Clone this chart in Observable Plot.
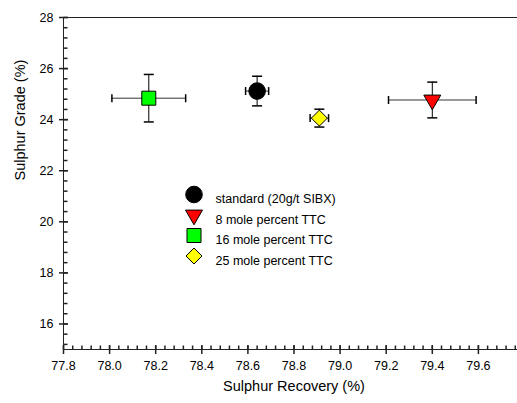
<!DOCTYPE html>
<html>
<head>
<meta charset="utf-8">
<script src="https://cdn.jsdelivr.net/npm/d3@7"></script>
<script src="https://cdn.jsdelivr.net/npm/@observablehq/plot@0.6"></script>
<style>
  html, body { margin: 0; padding: 0; background: #fff; }
  svg { font-family: "Liberation Sans", Arial, sans-serif; }
</style>
</head>
<body>
<div id="chart"></div>
<script>
// Flotation results: sulphur recovery vs grade, mean ± error for each collector
const series = ["standard (20g/t SIBX)", "8 mole percent TTC", "16 mole percent TTC", "25 mole percent TTC"];
const recovery = [78.64, 79.40, 78.17, 78.91];
const recoveryErr = [0.05, 0.19, 0.16, 0.04];
const grade = [25.12, 24.77, 24.84, 24.06];
const gradeErr = [0.58, 0.70, 0.93, 0.35];

const colors = ["#000000", "#ff0000", "#00ff00", "#ffff00"];
const symbols = ["circle", "triangle", "square", "diamond2"];
const symbolR = [8.3, 6.3, 7.9, 7.2];
const symbolRotate = [0, 180, 0, 0];

const xTicks = [77.8, 78.0, 78.2, 78.4, 78.6, 78.8, 79.0, 79.2, 79.4, 79.6];
const yTicks = [16, 18, 20, 22, 24, 26, 28];

const rows = series.map((name, i) => ({
  name,
  rec: recovery[i],
  recErr: recoveryErr[i],
  grade: grade[i],
  gradeErr: gradeErr[i]
}));

const xDomain = [77.8, 79.8];
const yDomain = [15, 28];
const xMinor = d3.range(0, 51).map(i => +(77.8 + i * 0.04).toFixed(2));
const yMinor = d3.range(0, 33).map(i => +(15.2 + i * 0.4).toFixed(1));

// short line segments used as tick marks and error-bar caps
const seg = (x1, y1, x2, y2) => ({ draw(ctx) { ctx.moveTo(x1, y1); ctx.lineTo(x2, y2); } });

const fontSize = 12.5;
const ink = "#000";
const axisInk = "#222";

const marks = [
  // frame: top edge, left and bottom axis lines
  Plot.ruleY([28], { stroke: axisInk }),
  Plot.ruleY([15], { stroke: axisInk }),
  Plot.ruleX([77.8], { stroke: axisInk }),

  // minor ticks point inward, major ticks cross the axis
  Plot.dot(yMinor, { x: () => 77.8, y: d => d, symbol: seg(0, 0, 4, 0), fill: "none", stroke: axisInk }),
  Plot.dot(yTicks, { x: () => 77.8, y: d => d, symbol: seg(-4.5, 0, 4.5, 0), fill: "none", stroke: axisInk }),
  Plot.dot(xMinor, { x: d => d, y: () => 15, symbol: seg(0, 0, 0, -4), fill: "none", stroke: axisInk }),
  Plot.dot(xTicks, { x: d => d, y: () => 15, symbol: seg(0, -4.5, 0, 4.5), fill: "none", stroke: axisInk }),

  Plot.axisX(xTicks, { tickSize: 0, tickPadding: 12, tickFormat: d3.format(".1f"), fontSize, label: null }),
  Plot.axisY(yTicks, { tickSize: 0, tickPadding: 10, tickFormat: d3.format("d"), fontSize, label: null }),

  Plot.text(["Sulphur Recovery (%)"], { frameAnchor: "bottom", dx: 3.5, dy: 41, fontSize: 14.5, text: d => d, fill: ink }),
  Plot.text(["Sulphur Grade (%)"], { frameAnchor: "left", dx: -43, dy: -3, rotate: -90, fontSize: 14.5, text: d => d, fill: ink }),

  // error bars
  Plot.ruleY(rows, { y: "grade", x1: d => d.rec - d.recErr, x2: d => d.rec + d.recErr, stroke: "#333" }),
  Plot.ruleX(rows, { x: "rec", y1: d => d.grade - d.gradeErr, y2: d => d.grade + d.gradeErr, stroke: ink }),
  Plot.dot(rows, { x: d => d.rec - d.recErr, y: "grade", symbol: seg(0, -4, 0, 4), fill: "none", stroke: ink }),
  Plot.dot(rows, { x: d => d.rec + d.recErr, y: "grade", symbol: seg(0, -4, 0, 4), fill: "none", stroke: ink }),
  Plot.dot(rows, { x: "rec", y: d => d.grade - d.gradeErr, symbol: seg(-5, 0, 5, 0), fill: "none", stroke: ink }),
  Plot.dot(rows, { x: "rec", y: d => d.grade + d.gradeErr, symbol: seg(-5, 0, 5, 0), fill: "none", stroke: ink })
];

// data markers and legend entries
rows.forEach((row, i) => {
  const style = { symbol: symbols[i], r: symbolR[i], rotate: symbolRotate[i], fill: colors[i], stroke: ink, strokeWidth: 1 };
  marks.push(Plot.dot([row], { x: "rec", y: "grade", ...style }));
  marks.push(Plot.dot([row], { frameAnchor: "top-left", dx: 130.5, dy: 177 + 20.5 * i, ...style }));
  marks.push(Plot.text([row], { frameAnchor: "top-left", dx: 152, dy: 177 + 20.5 * i, text: "name", textAnchor: "start", fontSize, fill: ink }));
});

const chart = Plot.plot({
  width: 517,
  height: 403,
  marginLeft: 63,
  marginRight: 0,
  marginTop: 17,
  marginBottom: 54,
  style: { background: "#fff", color: ink, fontFamily: "\"Liberation Sans\", Arial, sans-serif" },
  x: { domain: xDomain, range: [63, 524] },
  y: { domain: yDomain, range: [349, 17] },
  marks
});

document.getElementById("chart").append(chart);
</script>
</body>
</html>
